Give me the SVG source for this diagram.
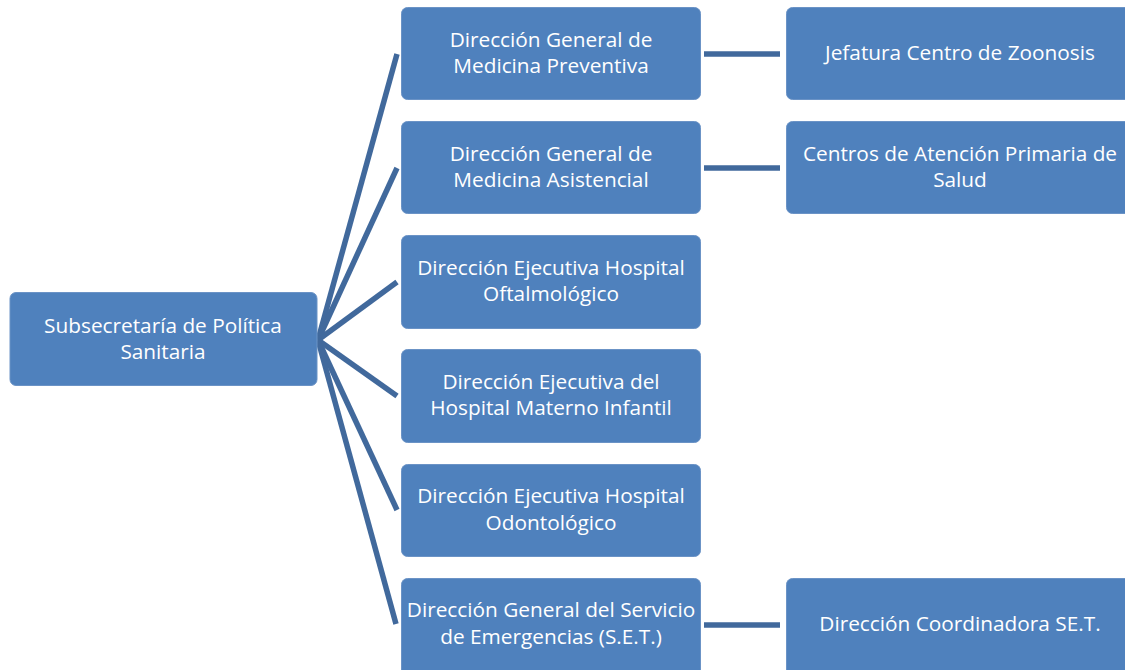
<svg xmlns="http://www.w3.org/2000/svg" width="1125" height="670" viewBox="0 0 1125 670">
<style>
.n{fill:#4f81bd;stroke:#6b93c6;stroke-width:1}
.t{fill:#ffffff;font-family:"Open Sans","Liberation Sans",Arial,sans-serif;font-size:20.8px;text-anchor:middle}
.c{stroke:#41699c;stroke-width:5.5;fill:none}
</style>
<rect width="1125" height="670" fill="#ffffff"/>
<g id="connectors">
<line class="c" x1="318" y1="340" x2="397" y2="54"/>
<line class="c" x1="318" y1="340" x2="397" y2="168"/>
<line class="c" x1="318" y1="340" x2="397" y2="282"/>
<line class="c" x1="318" y1="340" x2="397" y2="396"/>
<line class="c" x1="318" y1="340" x2="397" y2="510"/>
<line class="c" x1="318" y1="340" x2="396" y2="624"/>
<line class="c" x1="704" y1="54" x2="780" y2="54"/>
<line class="c" x1="704" y1="168" x2="780" y2="168"/>
<line class="c" x1="704" y1="625" x2="780" y2="625"/>
</g>
<g id="n0"><rect class="n" x="10" y="292.5" width="307" height="93" rx="6"/><text class="t" x="163" y="333">Subsecretaría de Política</text><text class="t" x="163" y="359">Sanitaria</text></g>
<g id="n1"><rect class="n" x="401.5" y="7.5" width="299" height="92" rx="6"/><text class="t" x="551" y="47">Dirección General de</text><text class="t" x="551" y="73">Medicina Preventiva</text></g>
<g id="n2"><rect class="n" x="401.5" y="121.5" width="299" height="92" rx="6"/><text class="t" x="551" y="161">Dirección General de</text><text class="t" x="551" y="187">Medicina Asistencial</text></g>
<g id="n3"><rect class="n" x="401.5" y="235.5" width="299" height="93" rx="6"/><text class="t" x="551" y="275">Dirección Ejecutiva Hospital</text><text class="t" x="551" y="301">Oftalmológico</text></g>
<g id="n4"><rect class="n" x="401.5" y="349.5" width="299" height="93" rx="6"/><text class="t" x="551" y="389">Dirección Ejecutiva del</text><text class="t" x="551" y="415">Hospital Materno Infantil</text></g>
<g id="n5"><rect class="n" x="401.5" y="464.5" width="299" height="92" rx="6"/><text class="t" x="551" y="503">Dirección Ejecutiva Hospital</text><text class="t" x="551" y="530">Odontológico</text></g>
<g id="n6"><rect class="n" x="401.5" y="578.5" width="299" height="100" rx="6"/><text class="t" x="551" y="617">Dirección General del Servicio</text><text class="t" x="551" y="644">de Emergencias (S.E.T.)</text></g>
<g id="n7"><rect class="n" x="786.5" y="7.5" width="350" height="92" rx="6"/><text class="t" x="960" y="60">Jefatura Centro de Zoonosis</text></g>
<g id="n8"><rect class="n" x="786.5" y="121.5" width="350" height="92" rx="6"/><text class="t" x="960" y="161">Centros de Atención Primaria de</text><text class="t" x="960" y="187">Salud</text></g>
<g id="n9"><rect class="n" x="786.5" y="578.5" width="350" height="100" rx="6"/><text class="t" x="960" y="631">Dirección Coordinadora SE.T.</text></g>
</svg>
